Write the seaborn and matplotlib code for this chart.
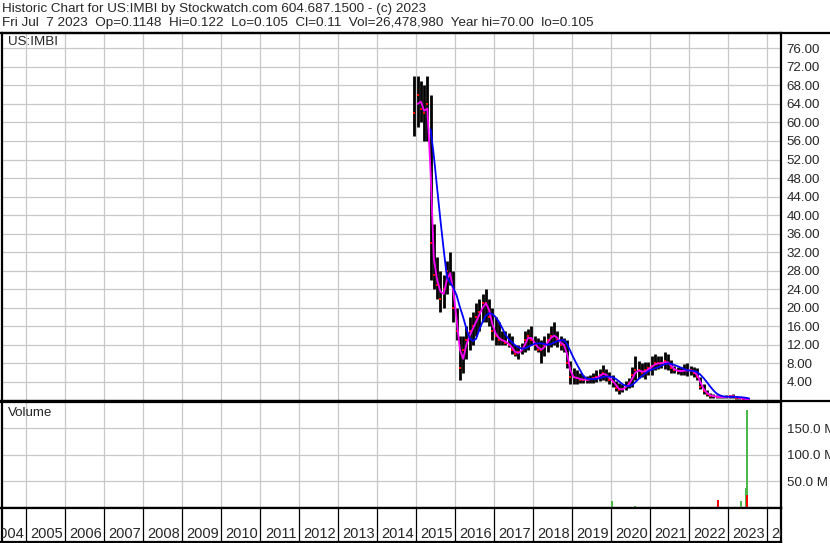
import numpy as np
import pandas as pd
import matplotlib
matplotlib.use("Agg")
import matplotlib.pyplot as plt
from matplotlib.lines import Line2D
import seaborn as sns

# ------------------------------------------------------------
# data: monthly high / low / close, Dec 2014 .. Jul 2023
# ------------------------------------------------------------
months = pd.date_range("2014-12-01", "2023-07-01", freq="MS")

high = [70, 70, 69, 68, 70, 66, 38, 31, 28, 27, 30, 32, 28,
        20, 14, 14, 16, 18, 19, 21, 22, 23, 24, 22, 20,
        18, 17, 15, 15, 14.5, 14, 12, 12, 12.5, 15, 15.5, 16,
        14, 13.5, 13, 14, 14.5, 16, 17, 15, 14, 13.5, 13, 8.5,
        7, 6.5, 6, 5.5, 5.2, 5.6, 5.9, 6.5, 6.8, 7.7, 6.8, 6.2,
        5.5, 4.2, 3.8, 3.6, 4.2, 4.8, 7.3, 9.5, 8.5, 8, 8.4, 8.4,
        9.5, 10, 9.5, 9.5, 10.5, 10, 8.7, 7.5, 7.3, 7.3, 7.8, 8,
        7.4, 7.2, 7, 5, 3.5, 2.3, 1.6, 1.4, 1.2, 1.0, 1.0, 1.1,
        1.2, 1.4, 1.0, 0.8, 0.7, 0.45, 0.122]
low = [57, 59, 60, 56, 56, 26, 24, 22, 19, 20, 23, 25, 17,
       13, 4.5, 6, 9, 11, 12, 14, 15, 17, 17, 16, 13,
       12, 12, 12, 12, 11.5, 10, 9.5, 9, 10, 10.5, 11, 12,
       11, 10.5, 8, 9.5, 10.5, 11.5, 12, 11.5, 11, 10.5, 7, 3.5,
       3.5, 3.6, 3.7, 3.8, 3.8, 3.8, 3.8, 4, 4.1, 4.4, 4.2, 3.6,
       3, 2, 1.5, 1.8, 2.2, 2.6, 3, 4.5, 4.8, 5, 4.6, 5.4,
       5.5, 6.5, 6.8, 7, 6.8, 6.6, 6, 5.9, 5.7, 5.5, 5.4, 5.2,
       5.5, 5, 4.4, 2.5, 1.5, 0.9, 0.6, 0.5, 0.45, 0.45, 0.5, 0.6,
       0.6, 0.6, 0.3, 0.25, 0.2, 0.12, 0.105]
close = [62, 66, 63, 62, 64, 34, 27, 25, 22, 24, 28, 27, 20,
         15, 7, 11, 13, 15, 16, 18, 19, 21, 21, 18, 15,
         14, 13, 13, 12.5, 12, 11, 10, 10.5, 11, 13, 14, 13,
         12, 11, 11, 12, 13, 14, 14, 13, 12, 12, 8, 5,
         5, 4.8, 4.5, 4.5, 4.5, 4.6, 4.8, 5, 5.5, 6, 5.2, 4.5,
         4, 2.8, 2.2, 2.5, 3.2, 3.8, 5.5, 6.5, 6.5, 6, 6.5, 7,
         7.5, 8, 8, 8, 8.5, 8, 7, 6.5, 6.4, 6.3, 6.5, 6.5,
         6.5, 6, 5, 3, 2, 1.3, 1, 0.9, 0.8, 0.7, 0.7, 0.8,
         0.9, 0.9, 0.6, 0.5, 0.4, 0.2, 0.11]

# visible volume spikes (decimal year, millions, up day?)
vol_years = [2019.33, 2020.02, 2020.62, 2021.43, 2022.74, 2022.97,
             2023.33, 2023.33, 2023.46, 2023.48, 2023.50]
vol_millions = [1.5, 12.5, 3, 1, 14.5, 1, 12.5, 1, 37, 185, 24]
vol_up = [True, True, True, False, False, True, True, False, True, True, False]

year_labels = list(range(2004, 2025))
price_ticks = np.arange(4, 77, 4)
vol_ticks = [50, 100, 150]

header1 = "Historic Chart for US:IMBI by Stockwatch.com 604.687.1500 - (c) 2023"
header2 = ("Fri Jul  7 2023  Op=0.1148  Hi=0.122  Lo=0.105  Cl=0.11  "
           "Vol=26,478,980  Year hi=70.00  lo=0.105")

# ------------------------------------------------------------
df = pd.DataFrame({"high": high, "low": low, "close": close}, index=months)
df["x"] = df.index.year + (df.index.month - 0.5) / 12
df["ma_fast"] = df["close"].rolling(2).mean()
df["ma_slow"] = df["close"].rolling(6).mean()

sns.set_style("white")
plt.rcParams["font.family"] = ["Liberation Sans", "DejaVu Sans"]

W, H = 830, 543
fig = plt.figure(figsize=(W / 100, H / 100), dpi=100)


def box(x0, y0, x1, y1):
    return [x0 / W, 1 - y1 / H, (x1 - x0) / W, (y1 - y0) / H]


ax_p = fig.add_axes(box(1.5, 33, 781, 400.5))
ax_v = fig.add_axes(box(1.5, 401.5, 781, 507.5))
ax_x = fig.add_axes(box(1.5, 507.5, 781, 542))

XL = (2004.37, 2024.36)
grid_kw = dict(color="#C8C8C8", lw=0.9)

# --- price panel ---
ax_p.vlines(df["x"], df["low"], df["high"], color="black", lw=2.0, zorder=2)
ax_p.plot(df["x"], df["close"], ls="none", marker="s", ms=1.8, mew=0,
          color="red", zorder=3)
sns.lineplot(data=df, x="x", y="ma_fast", ax=ax_p, color="#FF00FF", lw=1.3, zorder=4)
sns.lineplot(data=df, x="x", y="ma_slow", ax=ax_p, color="#0000FF", lw=1.3, zorder=5)
ax_p.set_xlim(XL)
ax_p.set_ylim(0, 79.3)
ax_p.set_xticks(year_labels[1:])
ax_p.set_yticks(price_ticks)
ax_p.set_yticklabels([f"{v:.2f}" for v in price_ticks])
ax_p.yaxis.tick_right()
ax_p.tick_params(axis="y", length=0, pad=4, labelsize=9.6)
ax_p.tick_params(axis="x", length=0, labelbottom=False)
ax_p.grid(True, **grid_kw)
ax_p.set_axisbelow(True)
ax_p.set_xlabel("")
ax_p.set_ylabel("")

# --- volume panel ---
for yr, v, up in zip(vol_years, vol_millions, vol_up):
    ax_v.bar(yr, v, width=0.05, color="#4CB84C" if up else "#FF0000",
             linewidth=0, zorder=3)
ax_v.set_xlim(XL)
ax_v.set_ylim(0, 201)
ax_v.set_xticks(year_labels[1:])
ax_v.set_yticks(vol_ticks)
ax_v.set_yticklabels([f"{v:.1f} M" for v in vol_ticks])
ax_v.yaxis.tick_right()
ax_v.tick_params(axis="y", length=0, pad=4, labelsize=9.6)
ax_v.tick_params(axis="x", length=0, labelbottom=False)
ax_v.grid(True, **grid_kw)
ax_v.set_axisbelow(True)

# --- year strip ---
ax_x.set_xlim(XL)
ax_x.set_ylim(0, 1)
ax_x.vlines(year_labels[1:], 0, 1, color="black", lw=0.9)
for yr in year_labels:
    ax_x.text(yr + 0.53, 0.22, str(yr), ha="center", va="center",
              fontsize=10.5, clip_on=True)
ax_x.set_xticks([])
ax_x.set_yticks([])

for ax in (ax_p, ax_v, ax_x):
    for s in ax.spines.values():
        s.set_color("black")
        s.set_linewidth(1.6)

# full-width rules
for yy in (33, 401):
    fig.add_artist(Line2D([0, 1], [1 - yy / H] * 2, color="black", lw=1.6))

fig.text(2 / W, 1 - 9 / H, header1, fontsize=9.7, va="center")
fig.text(2 / W, 1 - 23 / H, header2, fontsize=9.7, va="center")
fig.text(8 / W, 1 - 42 / H, "US:IMBI", fontsize=9.6, va="center")
fig.text(8 / W, 1 - 413 / H, "Volume", fontsize=9.6, va="center")

fig.savefig("out.png", dpi=100)
